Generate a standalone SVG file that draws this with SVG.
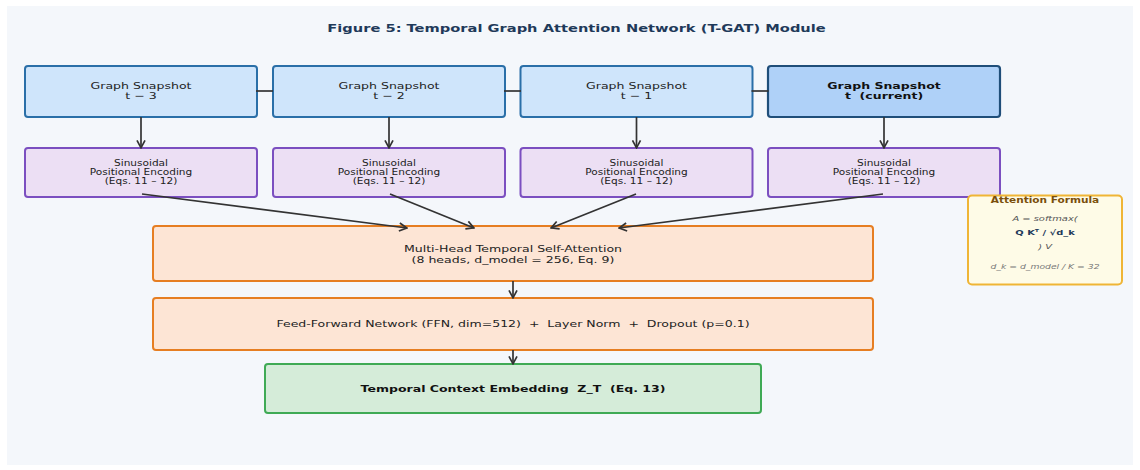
<svg xmlns="http://www.w3.org/2000/svg" width="1140" height="470" viewBox="0 0 1140 470">
  <style>
    text { font-family: "DejaVu Sans", "Liberation Sans", sans-serif; text-anchor: middle; fill: #222; white-space: pre; }
    .title { font-size: 11.1px; font-weight: bold; fill: #1f3a5a; }
    .snap rect { fill: #cfe5fb; stroke: #2a6fa8; stroke-width: 2; }
    .snap text { font-size: 9.5px; }
    .cur rect { fill: #afd1f8; stroke: #1f4e79; stroke-width: 2.2; }
    .cur text { font-size: 9.5px; font-weight: bold; fill: #111; }
    .pe rect { fill: #ecdff4; stroke: #7b4fc0; stroke-width: 2; }
    .pe text { font-size: 8px; }
    .blk rect { fill: #fde5d5; stroke: #e67e22; stroke-width: 2; }
    .blk text { font-size: 9.5px; }
    .out rect { fill: #d5ecd9; stroke: #3faa55; stroke-width: 2; }
    .out text { font-size: 9.5px; font-weight: bold; fill: #111; }
    .formula rect { fill: #fefbe7; stroke: #efb536; stroke-width: 2; }
    .formula .ft { font-size: 8px; font-weight: bold; fill: #7a4f0c; }
    .formula .fi { font-size: 7.5px; font-style: italic; fill: #555; }
    .formula .fb { font-size: 7.5px; font-weight: bold; fill: #1f3a5a; }
    .formula .fn { font-size: 7px; font-style: italic; fill: #777; }
    .edges line { stroke: #333; stroke-width: 1.7; fill: none; }
    .edges .arr { marker-end: url(#head); }
  </style>
  <defs>
    <marker id="head" viewBox="0 0 10 10" refX="9.2" refY="5" markerWidth="10" markerHeight="10" markerUnits="userSpaceOnUse" orient="auto">
      <path d="M1.5,1 L9,5 L1.5,9" fill="none" stroke="#333" stroke-width="1.7"/>
    </marker>
  </defs>

  <!-- page and panel -->
  <rect x="0" y="0" width="1140" height="470" fill="#ffffff"/>
  <rect x="7" y="6" width="1126" height="459" fill="#f4f7fb"/>

  <text class="title" transform="translate(576.5,32) scale(1.32,1)">Figure 5: Temporal Graph Attention Network (T-GAT) Module</text>

  <!-- graph snapshots -->
  <g id="snap-t3" class="snap">
    <rect x="25" y="66" width="232" height="51" rx="3"/>
    <text transform="translate(141,89) scale(1.32,1)">Graph Snapshot</text>
    <text transform="translate(141,99) scale(1.32,1)">t − 3</text>
  </g>
  <g id="snap-t2" class="snap">
    <rect x="273" y="66" width="232" height="51" rx="3"/>
    <text transform="translate(389,89) scale(1.32,1)">Graph Snapshot</text>
    <text transform="translate(389,99) scale(1.32,1)">t − 2</text>
  </g>
  <g id="snap-t1" class="snap">
    <rect x="520.5" y="66" width="232" height="51" rx="3"/>
    <text transform="translate(636.5,89) scale(1.32,1)">Graph Snapshot</text>
    <text transform="translate(636.5,99) scale(1.32,1)">t − 1</text>
  </g>
  <g id="snap-t" class="cur">
    <rect x="768" y="66" width="232" height="51" rx="3"/>
    <text transform="translate(884,89) scale(1.32,1)">Graph Snapshot</text>
    <text transform="translate(884,99) scale(1.32,1)">t  (current)</text>
  </g>

  <!-- positional encodings -->
  <g id="pe-t3" class="pe">
    <rect x="25" y="148" width="232" height="49" rx="3"/>
    <text transform="translate(141,166) scale(1.32,1)">Sinusoidal</text>
    <text transform="translate(141,175) scale(1.32,1)">Positional Encoding</text>
    <text transform="translate(141,184) scale(1.32,1)">(Eqs. 11 – 12)</text>
  </g>
  <g id="pe-t2" class="pe">
    <rect x="273" y="148" width="232" height="49" rx="3"/>
    <text transform="translate(389,166) scale(1.32,1)">Sinusoidal</text>
    <text transform="translate(389,175) scale(1.32,1)">Positional Encoding</text>
    <text transform="translate(389,184) scale(1.32,1)">(Eqs. 11 – 12)</text>
  </g>
  <g id="pe-t1" class="pe">
    <rect x="520.5" y="148" width="232" height="49" rx="3"/>
    <text transform="translate(636.5,166) scale(1.32,1)">Sinusoidal</text>
    <text transform="translate(636.5,175) scale(1.32,1)">Positional Encoding</text>
    <text transform="translate(636.5,184) scale(1.32,1)">(Eqs. 11 – 12)</text>
  </g>
  <g id="pe-t" class="pe">
    <rect x="768" y="148" width="232" height="49" rx="3"/>
    <text transform="translate(884,166) scale(1.32,1)">Sinusoidal</text>
    <text transform="translate(884,175) scale(1.32,1)">Positional Encoding</text>
    <text transform="translate(884,184) scale(1.32,1)">(Eqs. 11 – 12)</text>
  </g>

  <!-- attention and feed-forward blocks -->
  <g id="mhsa" class="blk">
    <rect x="153" y="226" width="720" height="55" rx="3"/>
    <text transform="translate(513,252) scale(1.32,1)">Multi-Head Temporal Self-Attention</text>
    <text transform="translate(513,262.5) scale(1.32,1)">(8 heads, d_model = 256, Eq. 9)</text>
  </g>
  <g id="ffn" class="blk">
    <rect x="153" y="298" width="720" height="52" rx="3"/>
    <text transform="translate(513,327) scale(1.32,1)">Feed-Forward Network (FFN, dim=512)  +  Layer Norm  +  Dropout (p=0.1)</text>
  </g>

  <!-- output embedding -->
  <g id="zt" class="out">
    <rect x="265" y="364" width="496" height="49" rx="3"/>
    <text transform="translate(513,392) scale(1.32,1)">Temporal Context Embedding  Z_T  (Eq. 13)</text>
  </g>

  <!-- formula note -->
  <g id="formula" class="formula">
    <rect x="968" y="195.5" width="154" height="89" rx="4"/>
    <text class="ft" transform="translate(1045,203) scale(1.32,1)">Attention Formula</text>
    <text class="fi" transform="translate(1045,221) scale(1.32,1)">A = softmax(</text>
    <text class="fb" transform="translate(1045,235) scale(1.32,1)">Q Kᵀ / √d_k</text>
    <text class="fi" transform="translate(1045,249) scale(1.32,1)">) V</text>
    <text class="fn" transform="translate(1045,269) scale(1.32,1)">d_k = d_model / K = 32</text>
  </g>

  <!-- connectors, drawn over the boxes -->
  <g class="edges">
    <line x1="256" y1="91" x2="273" y2="91"/>
    <line x1="504" y1="91" x2="521" y2="91"/>
    <line x1="751.5" y1="91" x2="768.5" y2="91"/>
    <line class="arr" x1="141" y1="117" x2="141" y2="148"/>
    <line class="arr" x1="389" y1="117" x2="389" y2="148"/>
    <line class="arr" x1="636.5" y1="117" x2="636.5" y2="148"/>
    <line class="arr" x1="884" y1="117" x2="884" y2="148"/>
    <line class="arr" x1="142" y1="194" x2="407" y2="228"/>
    <line class="arr" x1="390" y1="194" x2="474" y2="228"/>
    <line class="arr" x1="636" y1="194" x2="551" y2="228"/>
    <line class="arr" x1="883" y1="194" x2="619" y2="228"/>
    <line class="arr" x1="513" y1="281" x2="513" y2="298"/>
    <line class="arr" x1="513" y1="350" x2="513" y2="364"/>
  </g>
</svg>
